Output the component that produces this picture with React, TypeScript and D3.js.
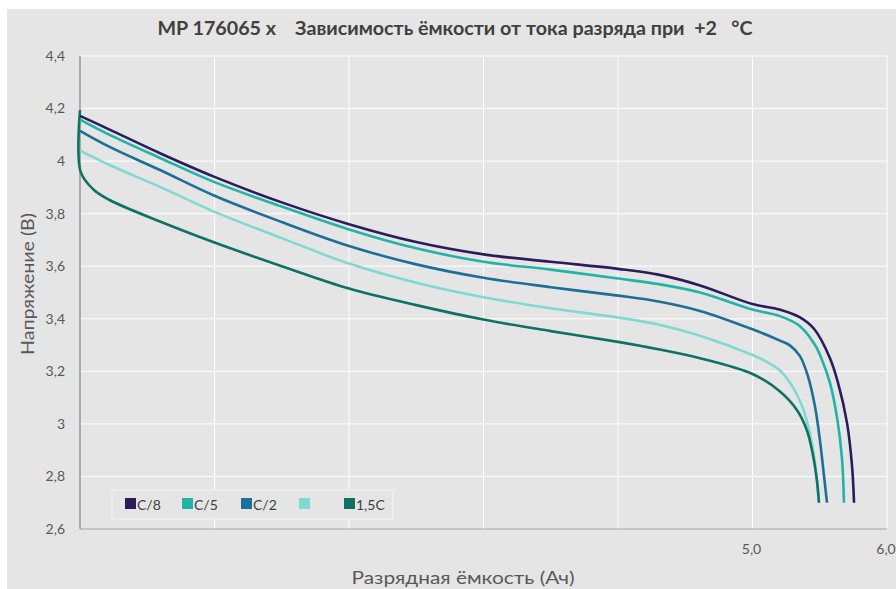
import React from "react";
import * as d3 from "d3";

const yTicks = [2.6, 2.8, 3.0, 3.2, 3.4, 3.6, 3.8, 4.0, 4.2, 4.4];
const yTickLabels = ["2,6", "2,8", "3", "3,2", "3,4", "3,6", "3,8", "4", "4,2", "4,4"];
const xTicks = [1, 2, 3, 4, 5, 6];
const xTickLabels = ["", "", "", "", "5,0", "6,0"];

const seriesNames = ["C/8", "C/5", "C/2", "", "1,5C"];
const seriesColors = ["#2b1c5e", "#22b3a7", "#1d6f98", "#80d9d1", "#0f7163"];

const c8: [number, number][] = [
  [0, 4.172], [0.22, 4.12], [0.595, 4.03], [1, 3.94], [1.5, 3.843], [2, 3.76],
  [2.5, 3.692], [3, 3.645], [3.5, 3.617], [4, 3.59], [4.3, 3.568], [4.61, 3.527],
  [5, 3.456], [5.2, 3.435], [5.353, 3.405], [5.46, 3.36], [5.576, 3.25],
  [5.636, 3.156], [5.703, 3.003], [5.74, 2.84], [5.755, 2.7],
];
const c5: [number, number][] = [
  [0, 4.158], [0.22, 4.1], [0.595, 4.012], [1, 3.92], [1.5, 3.827], [2, 3.74],
  [2.5, 3.668], [3, 3.617], [3.5, 3.587], [4, 3.553], [4.3, 3.532], [4.61, 3.5],
  [5, 3.435], [5.204, 3.41], [5.353, 3.372], [5.465, 3.3], [5.517, 3.243],
  [5.576, 3.156], [5.628, 3.026], [5.665, 2.87], [5.68, 2.7],
];
const c2: [number, number][] = [
  [0, 4.115], [0.22, 4.054], [0.595, 3.966], [1, 3.868], [1.5, 3.768], [2, 3.677],
  [2.5, 3.607], [3, 3.556], [3.5, 3.52], [4, 3.488], [4.3, 3.466], [4.61, 3.43],
  [5, 3.36], [5.2, 3.318], [5.28, 3.298], [5.353, 3.258], [5.413, 3.18], [5.465, 3.065],
  [5.502, 2.935], [5.532, 2.8], [5.554, 2.7],
];
const c1: [number, number][] = [
  [0, 4.04], [0.22, 3.985], [0.595, 3.902], [1, 3.807], [1.5, 3.707], [2, 3.61],
  [2.5, 3.537], [3, 3.482], [3.5, 3.44], [4, 3.405], [4.3, 3.378], [4.61, 3.335],
  [5, 3.262], [5.1, 3.238], [5.204, 3.203], [5.3, 3.14], [5.375, 3.06], [5.428, 2.96],
  [5.465, 2.85], [5.48, 2.78], [5.494, 2.7],
];
const c15: [number, number][] = [
  [0, 4.194], [0.004, 3.96], [0.1, 3.892], [0.22, 3.852], [0.595, 3.77], [1, 3.69],
  [1.5, 3.6], [2, 3.515], [2.5, 3.452], [3, 3.397], [3.5, 3.353], [4, 3.312], [4.3, 3.284],
  [4.61, 3.25], [5, 3.19], [5.2, 3.125], [5.33, 3.053],
  [5.405, 2.975], [5.45, 2.88], [5.48, 2.78], [5.494, 2.7],
];
const seriesData = [c8, c5, c2, c1, c15];

const W = 896;
const H = 589;
const M = { left: 80, right: 887, top: 56, bottom: 529 };

export default function App() {
  const x = d3.scaleLinear().domain([0, 6]).range([M.left, M.right]);
  const y = d3.scaleLinear().domain([2.6, 4.4]).range([M.bottom, M.top]);
  const line = d3
    .line<[number, number]>()
    .x((d) => x(d[0]))
    .y((d) => y(d[1]))
    .curve(d3.curveCatmullRom.alpha(0.5));

  const font = "Lato, 'Open Sans', sans-serif";
  const legendX = [125, 182, 241, 299, 344];
  const drawOrder = [3, 4, 2, 1, 0];

  return (
    <div style={{ position: "fixed", left: 0, top: 0 }}>
      <svg width={W} height={H} style={{ display: "block" }}>
        <rect x={0} y={0} width={W} height={H} fill="#ffffff" />
        <rect x={7} y={9} width={W - 7} height={H - 9} fill="#e5e5e5" />
        {yTicks.slice(1).map((t) => (
          <line key={"gy" + t} x1={M.left} x2={M.right} y1={y(t)} y2={y(t)} stroke="#ffffff" strokeWidth={1} />
        ))}
        {xTicks.map((t) => (
          <line key={"gx" + t} x1={x(t)} x2={x(t)} y1={M.top} y2={M.bottom} stroke="#ffffff" strokeWidth={1} />
        ))}
        <line x1={M.left} x2={M.right} y1={M.bottom} y2={M.bottom} stroke="#a6a6a6" strokeWidth={1.2} />
        <line x1={M.left} x2={M.left} y1={M.top} y2={M.bottom} stroke="#6e6e6e" strokeWidth={1} />
        {yTicks.map((t, i) => (
          <text key={"yl" + t} x={65} y={y(t)} dy="0.35em" textAnchor="end" fontFamily={font} fontSize={14} fill="#595959">
            {yTickLabels[i]}
          </text>
        ))}
        {xTicks.map((t, i) => (
          <text key={"xl" + t} x={x(t) - 1} y={554} textAnchor="middle" fontFamily={font} fontSize={14} fill="#595959">
            {xTickLabels[i]}
          </text>
        ))}
        {drawOrder.map((i) => (
          <path key={"s" + i} d={line(seriesData[i]) || ""} fill="none" stroke={seriesColors[i]} strokeWidth={2.6} strokeLinejoin="round" />
        ))}
        <rect x={112} y={490} width={281} height={29} fill="#e5e5e5" stroke="#f4f4f4" strokeWidth={1} />
        {seriesNames.map((n, i) => (
          <g key={"lg" + i}>
            <rect x={legendX[i]} y={498} width={11} height={11} fill={seriesColors[i]} />
            <text x={legendX[i] + 12} y={510} fontFamily={font} fontSize={14} fill="#404040">
              {n}
            </text>
          </g>
        ))}
        <text x={455} y={35} textAnchor="middle" fontFamily={font} fontWeight="bold" fontSize={18} fill="#404040" textLength={595} lengthAdjust="spacingAndGlyphs" style={{ whiteSpace: "pre" }}>
          {"MP 176065 x    Зависимость ёмкости от тока разряда при  +2   °C"}
        </text>
        <text x={463} y={584} textAnchor="middle" fontFamily={font} fontSize={17} fill="#595959" textLength={223} lengthAdjust="spacingAndGlyphs">
          Разрядная ёмкость (Ач)
        </text>
        <text transform="translate(34,284) rotate(-90)" textAnchor="middle" fontFamily={font} fontSize={17} fill="#595959" textLength={142} lengthAdjust="spacingAndGlyphs">
          Напряжение (В)
        </text>
      </svg>
    </div>
  );
}
